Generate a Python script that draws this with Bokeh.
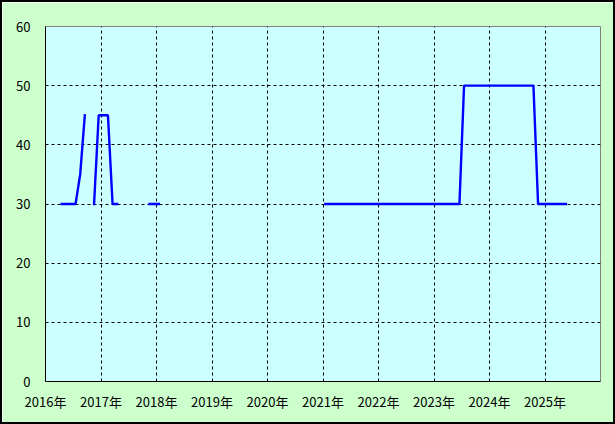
import numpy as np
from bokeh.plotting import figure
from bokeh.models import FixedTicker, Range1d
from bokeh.embed import file_html
from bokeh.resources import INLINE

NA = float("nan")

# Monthly values (Jan..Dec) per year; NaN = no data (line break)
v2016 = [NA, NA, NA, 30, 30, 30, 30, 35, 45, NA, 30, 45]
v2017 = [45, 45, 30, 30, NA, NA, NA, NA, NA, NA, 30, 30]
v2018 = [30, NA, NA, NA, NA, NA, NA, NA, NA, NA, NA, NA]
v2019 = [NA, NA, NA, NA, NA, NA, NA, NA, NA, NA, NA, NA]
v2020 = [NA, NA, NA, NA, NA, NA, NA, NA, NA, NA, NA, NA]
v2021 = [30, 30, 30, 30, 30, 30, 30, 30, 30, 30, 30, 30]
v2022 = [30, 30, 30, 30, 30, 30, 30, 30, 30, 30, 30, 30]
v2023 = [30, 30, 30, 30, 30, 30, 50, 50, 50, 50, 50, 50]
v2024 = [50, 50, 50, 50, 50, 50, 50, 50, 50, 50, 30, 30]
v2025 = [30, 30, 30, 30, 30]

years = [2016, 2017, 2018, 2019, 2020, 2021, 2022, 2023, 2024, 2025]
series = [v2016, v2017, v2018, v2019, v2020, v2021, v2022, v2023, v2024, v2025]

x_ticks = [2016, 2017, 2018, 2019, 2020, 2021, 2022, 2023, 2024, 2025]
x_labels = ["2016年", "2017年", "2018年", "2019年", "2020年",
            "2021年", "2022年", "2023年", "2024年", "2025年"]
y_ticks = [0, 10, 20, 30, 40, 50, 60]

xs, ys = [], []
for yr, vals in zip(years, series):
    for i, v in enumerate(vals):
        xs.append(yr + (i + 0.5) / 12.0)
        ys.append(v)

B = 2  # css border of the chart (border-box)
W, H = 615, 424
p = figure(width=W, height=H, output_backend="svg", toolbar_location=None,
           x_range=Range1d(2016, 2026), y_range=Range1d(0, 60),
           min_border_left=45 - B, min_border_right=W + B - 600,
           min_border_top=26 - B, min_border_bottom=H + B - 381)
p.styles = {"border": "2px solid black"}

p.background_fill_color = "#CCFFFF"
p.border_fill_color = "#CCFFCC"
p.outline_line_color = "#808080"
p.outline_line_width = 1

p.line(xs, ys, line_color="#0000FF", line_width=2.4, line_cap="square")

FONT = "Noto Sans CJK JP"
p.xaxis.ticker = FixedTicker(ticks=x_ticks)
p.xaxis.major_label_overrides = {t: l for t, l in zip(x_ticks, x_labels)}
p.yaxis.ticker = FixedTicker(ticks=y_ticks)
for ax in (p.xaxis[0], p.yaxis[0]):
    ax.axis_line_color = "black"
    ax.axis_line_width = 1
    ax.major_tick_line_color = None
    ax.minor_tick_line_color = None
    ax.major_label_text_font = FONT
    ax.major_label_text_font_size = "13px"
    ax.major_label_text_color = "black"
p.xaxis.major_label_standoff = 4
p.yaxis.major_label_standoff = 9

p.xgrid.ticker = FixedTicker(ticks=x_ticks[1:])
p.ygrid.ticker = FixedTicker(ticks=y_ticks[1:-1])
for g in (p.xgrid[0], p.ygrid[0]):
    g.grid_line_color = "black"
    g.grid_line_dash = "3 3"
    g.grid_line_width = 1

open("out.html", "w").write(file_html(p, INLINE))
